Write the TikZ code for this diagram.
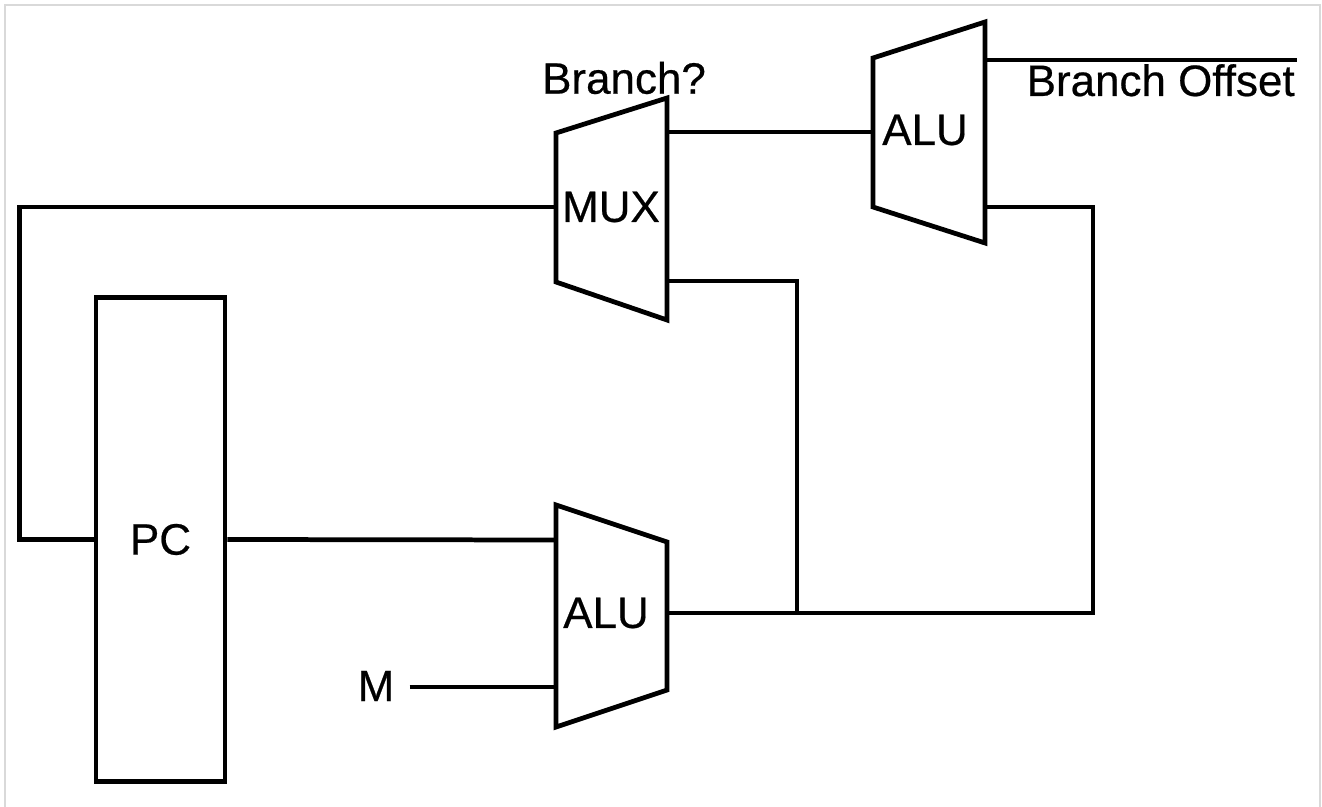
\documentclass[tikz,border=0pt]{standalone}
\usepackage{fontspec}
\setmainfont{Liberation Sans}
\newfontfamily\labelfont{Liberation Sans}[FakeBold=0.5]
\begin{document}
\begin{tikzpicture}[x=0.01cm, y=-0.01cm, line width=1.35pt,
  unit/.style={draw, line join=miter},
  lbl/.style={font=\labelfont\fontsize{12.5}{14}\selectfont, inner sep=0pt}]
  \useasboundingbox (0,0) rectangle (1322,807);
  \draw[line width=0.6pt, black!15] (5,807) -- (5,5) -- (1320,5) -- (1320,807);
  % program counter
  \node[unit, lbl, minimum width=1.29cm, minimum height=4.83cm] (pc) at (160.5,539.5) {PC};
  % multiplexer
  \draw[unit] (556,133) -- (667,98) -- (667,320) -- (556,282) -- cycle;
  \node[lbl] (mux) at (611,207) {MUX};
  \node[lbl] (branch) at (624,78) {Branch?};
  \coordinate (mux-in) at (556,207);
  \coordinate (mux-in2) at (667,281);
  \coordinate (mux-out) at (667,132);
  % upper ALU
  \draw[unit] (873,58) -- (985,22) -- (985,243) -- (873,207) -- cycle;
  \node[lbl] (alua) at (925,130) {ALU};
  \coordinate (alua-in) at (873,132);
  \coordinate (alua-out) at (985,60);
  \coordinate (alua-in2) at (985,207);
  \coordinate (offset-end) at (1297,60);
  \node[lbl, anchor=base east] (offset) at (1297,96) {Branch Offset};
  % lower ALU
  \draw[unit] (556,505) -- (667,542) -- (667,690) -- (556,727) -- cycle;
  \node[lbl] (alub) at (606,613) {ALU};
  \coordinate (alub-in) at (556,540);
  \coordinate (alub-in2) at (556,687);
  \coordinate (alub-out) at (667,613);
  \node[lbl] (m) at (376,686) {M};
  % wires
  \draw (pc.west) -- ++(-74,0) |- (mux-in);
  \draw (pc.east) -- (alub-in);
  \draw (m.east) ++(13,1) -- (alub-in2);
  \draw (mux-out) -- (alua-in);
  \draw (alua-out) -- (offset-end);
  \draw (alub-out) -- (1093,613) |- (alua-in2);
  \draw (797,613) |- (mux-in2);
\end{tikzpicture}
\end{document}
